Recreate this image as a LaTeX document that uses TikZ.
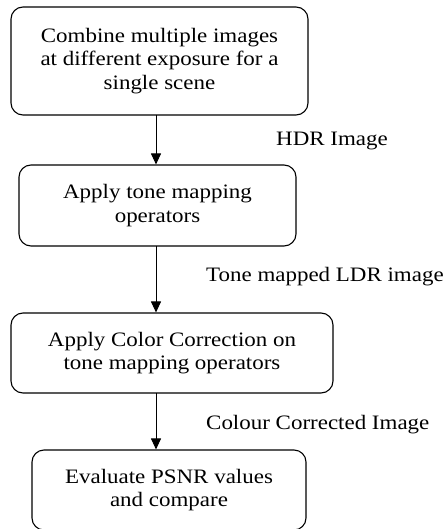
\documentclass[tikz,border=0pt]{standalone}
\usepackage{fontspec}
\setmainfont{Liberation Serif}[FakeStretch=1.12]
\usetikzlibrary{arrows.meta}
\begin{document}
\begin{tikzpicture}[x=1pt,y=-1pt,
  stepbox/.style={draw=black,line width=1.1pt,rounded corners=12pt,align=center,inner sep=0pt,font=\fontsize{20.5}{23.5}\selectfont},
  conn/.style={line width=1pt,-{Triangle[length=11pt,width=10pt]}},
  lbl/.style={anchor=west,inner sep=0pt,font=\fontsize{20.5}{23.5}\selectfont}]
\useasboundingbox (0,0) rectangle (445,529);
\node[stepbox,minimum width=297pt,minimum height=108pt] (b1) at (159.5,61) {Combine multiple images\\at different exposure for a\\single scene};
\node[stepbox,minimum width=277pt,minimum height=81pt] (b2) at (157.5,205.5) {Apply tone mapping\\operators};
\node[stepbox,minimum width=322pt,minimum height=80pt] (b3) at (172,353) {Apply Color Correction on\\tone mapping operators};
\node[stepbox,minimum width=274pt,minimum height=80pt] (b4) at (169,490) {Evaluate PSNR values\\and compare};
\coordinate (a1s) at (156,115);
\coordinate (a2s) at (156,246);
\coordinate (a3s) at (156,393);
\draw[conn] (a1s) -- (a1s |- b2.north);
\draw[conn] (a2s) -- (a2s |- b3.north);
\draw[conn] (a3s) -- (a3s |- b4.north);
\node[lbl] (l1) at (276,141) {HDR Image};
\node[lbl] (l2) at (206,277) {Tone mapped LDR image};
\node[lbl] (l3) at (206,425) {Colour Corrected Image};
\end{tikzpicture}
\end{document}
